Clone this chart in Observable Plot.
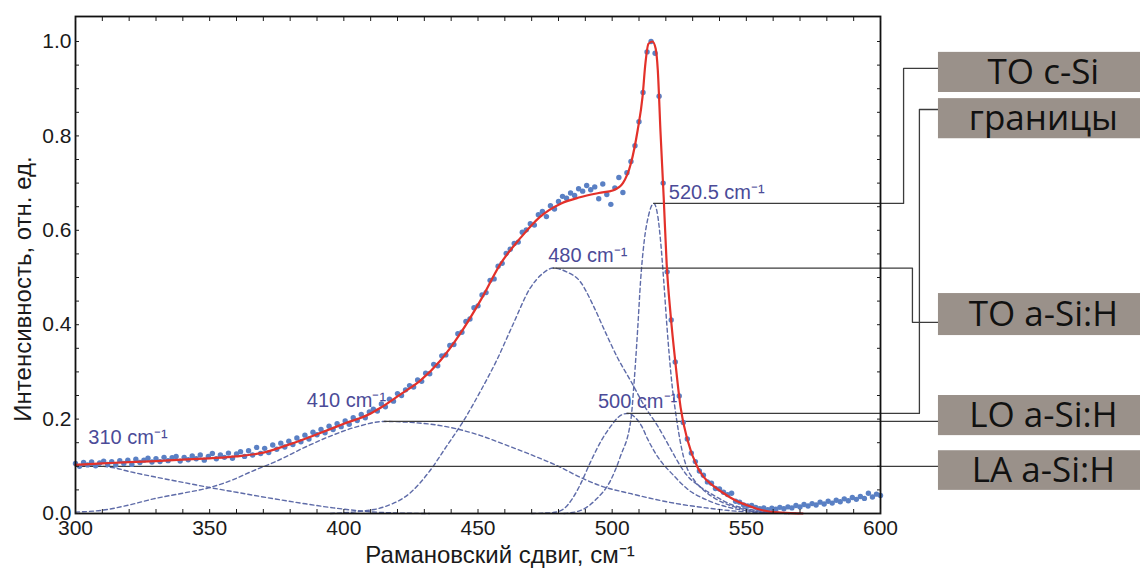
<!DOCTYPE html>
<html>
<head>
<meta charset="utf-8">
<script src="https://cdn.jsdelivr.net/npm/d3@7"></script>
<script src="https://cdn.jsdelivr.net/npm/@observablehq/plot@0.6"></script>
<style>
  html, body { margin: 0; padding: 0; background: #fff; }
  #chart svg { display: block; }
  g[aria-label="band-box-label"] text { letter-spacing: 2.5px; }
</style>
</head>
<body>
<div id="chart"></div>
<script>
// Raman spectrum of a-Si:H / nc-Si film, normalised intensity.
// Measured points, sampled from 300 cm⁻¹ every 1.5 cm⁻¹.
const shiftStart = 300;
const shiftStep = 1.5;
const measured = [
  .106,.100,.108,.103,.109,.101,.107,.111,.104,.110,
  .103,.112,.106,.113,.104,.115,.108,.113,.117,.109,
  .116,.110,.119,.112,.118,.121,.111,.119,.114,.122,
  .116,.124,.113,.121,.127,.116,.124,.119,.128,.117,
  .126,.131,.121,.133,.124,.140,.127,.138,.129,.145,
  .136,.149,.141,.153,.146,.160,.152,.166,.158,.172,
  .167,.178,.171,.185,.178,.190,.184,.196,.189,.203,
  .197,.210,.203,.215,.221,.217,.232,.226,.242,.238,
  .254,.250,.262,.271,.268,.283,.280,.297,.296,.316,
  .313,.334,.336,.356,.358,.381,.384,.407,.412,.436,
  .440,.463,.468,.494,.497,.524,.530,.551,.560,.572,
  .575,.596,.601,.614,.611,.633,.640,.629,.652,.645,
  .661,.672,.668,.679,.674,.688,.683,.695,.686,.692,
  .667,.698,.676,.655,.690,.712,.680,.722,.746,.779,
  .830,.892,.978,1.000,.975,.884,.700,.512,.410,.321,
  .249,.193,.158,.128,.110,.090,.081,.067,.064,.053,
  .052,.045,.040,.043,.026,.024,.018,.016,.017,.013,
  .010,.012,.008,.011,.009,.013,.010,.014,.012,.017,
  .014,.019,.016,.021,.018,.024,.020,.026,.022,.028,
  .025,.031,.027,.034,.030,.036,.032,.043,.035,.041,.038
];

// Fitted envelope (sum of bands)
const fitShift = [300,310,320,330,340,350,360,370,380,390,400,410,414,421,428.6,436,443.5,451,458.5,466,473,481,488,495,500.5,504,507,509.5,511.3,512.4,513.5,515,516.2,517,518,519.2,520.3,521.8,523.6,525.5,528.1,531.8,534,537.8,541,544,547,550.5,556,563,571];
const fitIntensity = [.103,.106,.109,.111,.114,.117,.121,.129,.147,.168,.190,.212,.225,.252,.282,.324,.382,.452,.530,.585,.628,.657,.670,.679,.685,.700,.742,.812,.882,.954,.995,1.0,.985,.940,.810,.670,.530,.420,.318,.225,.155,.098,.078,.058,.045,.034,.025,.017,.007,.002,0];

// Decomposition bands: [shift, intensity]
const bandLA = [[300,.100],[305,.101],[310,.100],[315,.096],[320,.089],[330,.077],[340,.066],[350,.055],[360,.045],[371,.034],[384,.022],[396,.012],[409,.004],[420,.001],[432,0]];
const bandLO = [[300,.003],[310,.007],[320,.018],[329,.031],[340,.043],[350,.055],[358,.070],[366,.090],[375,.111],[385,.139],[395,.164],[405,.184],[415,.195],[425,.193],[434,.188],[443,.178],[451,.165],[460,.146],[470,.124],[480,.100],[488,.077],[496,.058],[507,.042],[516,.030],[525,.020],[535,.012],[544,.006],[555,.002],[566,0]];
const bandTO = [[395,0],[405,.004],[415,.014],[425,.045],[432,.090],[438,.140],[445,.200],[451,.260],[457,.325],[463,.400],[469.5,.478],[474,.508],[478,.520],[483,.512],[488,.492],[493,.440],[497,.390],[502,.330],[507,.280],[512,.228],[517,.185],[521,.145],[525.5,.100],[528,.080],[532,.060],[538,.038],[544,.020],[550,.010],[560,.003],[572,0]];
const bandGB = [[470,0],[478,.002],[482,.010],[485,.030],[488,.060],[492,.110],[496,.155],[499.5,.185],[502.5,.205],[505.5,.212],[508.5,.204],[511,.185],[513.2,.158],[517,.120],[523,.080],[528,.052],[536,.027],[545,.011],[555,.003],[565,0]];
const bandCSi = [[482,0],[488,.006],[494,.030],[499.4,.070],[503,.120],[507,.200],[508.2,.280],[509.5,.390],[510.6,.494],[512,.580],[513.5,.630],[515.5,.657],[517,.630],[518,.580],[519.2,.494],[520.5,.390],[522,.290],[524,.200],[526.6,.120],[528,.095],[530,.075],[534,.050],[538,.033],[545,.015],[552,.006],[560,.002],[570,0]];

// Band annotations
const bandNames = ["310 cm⁻¹", "410 cm⁻¹", "480 cm⁻¹", "500 cm⁻¹", "520.5 cm⁻¹"];
const bandPeakShift = [310, 415, 478, 505.5, 515.5];
const bandPeakIntensity = [0.100, 0.195, 0.520, 0.212, 0.657];
const bandAssignments = ["LA a-Si:H", "LO a-Si:H", "TO a-Si:H", "границы", "TO c-Si"];

// Axis ticks
const xTickLabels = [300, 350, 400, 450, 500, 550, 600];
const yTickLabels = [0, 0.2, 0.4, 0.6, 0.8, 1.0];

// ---------------------------------------------------------------
const xDomain = [300, 600];
const yDomain = [0, 1.053];

const measuredPoints = measured.map((v, i) => ({shift: shiftStart + i * shiftStep, intensity: v}));
const fitPoints = fitShift.map((s, i) => ({shift: s, intensity: fitIntensity[i]}));
const bands = [bandLA, bandLO, bandTO, bandGB, bandCSi];
const bandPoints = bands.flatMap((b, k) => b.map(([s, v]) => ({band: k, shift: s, intensity: v})));

// Callout layout beyond the right edge of the frame (in scale units)
const boxLeft = 621.6, boxRight = 697, boxTextX = 660.7;
const callout = [
  {elbow: null,  y: null,  top: 0.133, bottom: 0.049},   // LA
  {elbow: null,  y: null,  top: 0.250, bottom: 0.165},   // LO
  {elbow: 611.9, y: 0.405, top: 0.466, bottom: 0.377},   // TO a-Si:H
  {elbow: 614.5, y: 0.856, top: 0.879, bottom: 0.794},   // границы
  {elbow: 608.6, y: 0.943, top: 0.977, bottom: 0.892}    // TO c-Si
];

const leaderPoints = bandPeakShift.flatMap((s, i) => {
  const p = bandPeakIntensity[i];
  const c = callout[i];
  const start = i === 0 ? xDomain[0] : s;
  const pts = [[start, p]];
  if (c.elbow != null) pts.push([c.elbow, p], [c.elbow, c.y], [boxLeft, c.y]);
  else pts.push([boxLeft, p]);
  return pts.map(([x, y]) => ({leader: i, x, y}));
});

const boxes = bandAssignments.map((name, i) => ({
  name,
  top: callout[i].top,
  bottom: callout[i].bottom,
  mid: (callout[i].top + callout[i].bottom) / 2
}));

const labelOffsets = [
  {dx: -14, dy: -29, anchor: "start"},
  {dx: 2,   dy: -21, anchor: "end"},
  {dx: -5,  dy: -12, anchor: "start"},
  {dx: -29, dy: -12, anchor: "start"},
  {dx: 15,  dy: -11, anchor: "start"}
];
const bandLabelMarks = bandNames.map((t, i) => Plot.text([t], {
  x: () => bandPeakShift[i], y: () => bandPeakIntensity[i],
  text: d => d, dx: labelOffsets[i].dx, dy: labelOffsets[i].dy,
  textAnchor: labelOffsets[i].anchor, lineAnchor: "middle",
  fontSize: 20, fill: "#4b4b98"
}));

const minorX = d3.range(31).map(i => 300 + i * 10);
const minorY = d3.range(21).map(i => i * 0.05);
const axisFont = 21, axisColor = "#1a1a1a";

const chart = Plot.plot({
  width: 1140,
  height: 568,
  marginLeft: 75,
  marginRight: 260,
  marginTop: 16,
  marginBottom: 55,
  x: {domain: xDomain},
  y: {domain: yDomain},
  style: {fontFamily: "'Liberation Sans', Arial, sans-serif", background: "#fff", overflow: "visible"},
  marks: [
    // decomposition bands
    Plot.line(bandPoints, {x: "shift", y: "intensity", z: "band", curve: "monotone-x",
      stroke: "#5563a3", strokeWidth: 1.4, strokeDasharray: "4,3", strokeOpacity: 0.95}),
    // callout leaders
    Plot.line(leaderPoints, {x: "x", y: "y", z: "leader", stroke: "#3c3c3c", strokeWidth: 1.3}),
    // measured spectrum
    Plot.dot(measuredPoints, {x: "shift", y: "intensity", r: 2.7, fill: "#5a80c4", stroke: null}),
    // fitted envelope
    Plot.line(fitPoints, {x: "shift", y: "intensity", curve: "monotone-x", stroke: "#e3312a", strokeWidth: 2.2}),
    ...bandLabelMarks,
    // frame and inward ticks
    Plot.frame({stroke: "#111", strokeWidth: 1.8}),
    Plot.axisX({anchor: "bottom", ticks: minorX, tickSize: -4, tickFormat: () => "", label: null, color: axisColor}),
    Plot.axisX({anchor: "top", ticks: minorX, tickSize: -4, tickFormat: () => "", label: null, color: axisColor}),
    Plot.axisY({anchor: "left", ticks: minorY, tickSize: -4, tickFormat: () => "", label: null, color: axisColor}),
    Plot.axisY({anchor: "right", ticks: minorY, tickSize: -4, tickFormat: () => "", label: null, color: axisColor}),
    // tick labels
    Plot.axisX({anchor: "bottom", ticks: xTickLabels, tickSize: 0, tickPadding: 7, tickFormat: d3.format("d"),
      label: null, fontSize: axisFont, color: axisColor}),
    Plot.axisY({anchor: "left", ticks: yTickLabels, tickSize: 0, tickPadding: 4, tickFormat: d3.format(".1f"),
      label: null, fontSize: axisFont, color: axisColor}),
    // axis titles
    Plot.text(["Рамановский сдвиг, см⁻¹"], {frameAnchor: "bottom", text: d => d, dx: 22, dy: 42,
      textAnchor: "middle", lineAnchor: "middle", fontSize: 24, fill: axisColor}),
    Plot.text(["Интенсивность, отн. ед."], {frameAnchor: "left", text: d => d, rotate: -90, dx: -52, dy: 24,
      textAnchor: "middle", lineAnchor: "middle", fontSize: 24, fill: axisColor}),
    // assignment boxes
    Plot.rect(boxes, {x1: boxLeft, x2: boxRight, y1: "bottom", y2: "top", fill: "#9a918a"}),
    Plot.text(boxes, {x: boxTextX, y: "mid", text: "name", fontSize: 35, fill: "#111",
      fontFamily: "'Open Sans', sans-serif", lineAnchor: "middle", ariaLabel: "band-box-label"})
  ]
});

document.getElementById("chart").appendChild(chart);
</script>
</body>
</html>
